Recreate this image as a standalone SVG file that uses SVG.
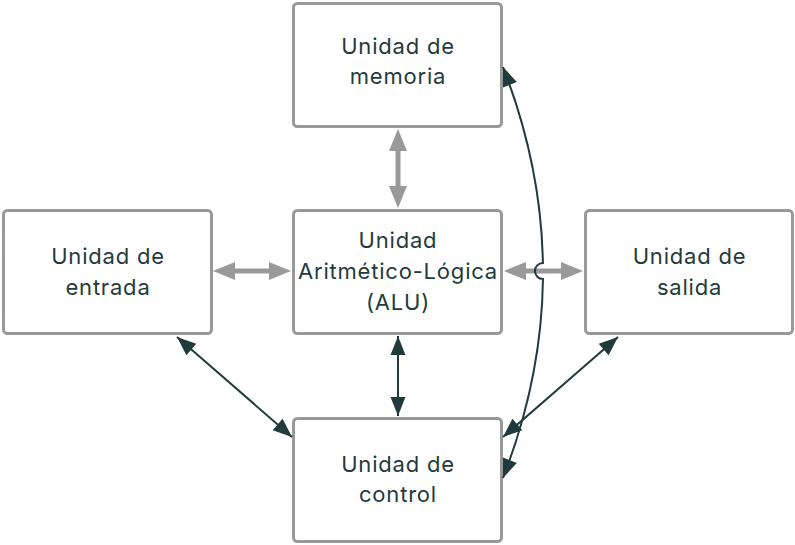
<svg xmlns="http://www.w3.org/2000/svg" width="795" height="545" viewBox="0 0 795 545">
<style>
.box{fill:#ffffff;stroke:#999999;stroke-width:3}
.lbl{font-family:Inter,"Noto Sans",sans-serif;font-size:22px;letter-spacing:0.8px;fill:#1f3b3c;text-anchor:middle}
.gray{stroke:#999999;stroke-width:5;fill:none}
.dark{stroke:#1f3b3c;stroke-width:2;fill:none}
</style>
<defs>
<marker id="ga" markerUnits="userSpaceOnUse" markerWidth="24" markerHeight="18" refX="0" refY="9" orient="auto-start-reverse" overflow="visible">
<path d="M0,0 L22,9 L0,18 z" fill="#999999"/>
</marker>
<marker id="da" markerUnits="userSpaceOnUse" markerWidth="20" markerHeight="16" refX="19" refY="7.5" orient="auto-start-reverse" overflow="visible">
<path d="M0,0 L19,7.5 L0,15 z" fill="#1f3b3c"/>
</marker>
</defs>
<rect width="795" height="545" fill="#ffffff"/>
<g id="memoria"><rect class="box" x="293.5" y="3.5" width="208" height="123" rx="4"/><text class="lbl" x="398" y="53.5">Unidad de</text><text class="lbl" x="398" y="83.5">memoria</text></g>
<g id="entrada"><rect class="box" x="3.5" y="210.5" width="208" height="123" rx="4"/><text class="lbl" x="108" y="263.5">Unidad de</text><text class="lbl" x="108" y="294.5">entrada</text></g>
<g id="alu"><rect class="box" x="293.5" y="210.5" width="208" height="123" rx="4"/><text class="lbl" x="398" y="247.5">Unidad</text><text class="lbl" x="398" y="278.5">Aritmético-Lógica</text><text class="lbl" x="398" y="309.5">(ALU)</text></g>
<g id="salida"><rect class="box" x="585.5" y="210.5" width="207" height="123" rx="4"/><text class="lbl" x="689.5" y="263.5">Unidad de</text><text class="lbl" x="689.5" y="294.5">salida</text></g>
<g id="control"><rect class="box" x="293.5" y="418.5" width="208" height="123" rx="4"/><text class="lbl" x="398" y="471.5">Unidad de</text><text class="lbl" x="398" y="501.5">control</text></g>
<g id="connectors">
<line class="gray" x1="398" y1="151" x2="398" y2="186" marker-start="url(#ga)" marker-end="url(#ga)"/>
<line class="gray" x1="235" y1="271" x2="269" y2="271" marker-start="url(#ga)" marker-end="url(#ga)"/>
<line class="gray" x1="526" y1="271" x2="561" y2="271" marker-start="url(#ga)" marker-end="url(#ga)"/>
<line class="dark" x1="398" y1="336" x2="398" y2="416" marker-start="url(#da)" marker-end="url(#da)"/>
<line class="dark" x1="177" y1="337" x2="292" y2="437" marker-start="url(#da)" marker-end="url(#da)"/>
<line class="dark" x1="618" y1="337" x2="503" y2="437" marker-start="url(#da)" marker-end="url(#da)"/>
<path class="dark" d="M503,67 Q541.15,164.8 542.9,263 A8,8 0 0 0 542.96,279 Q541.74,378.25 503,478" marker-start="url(#da)" marker-end="url(#da)"/>
</g>
</svg>
